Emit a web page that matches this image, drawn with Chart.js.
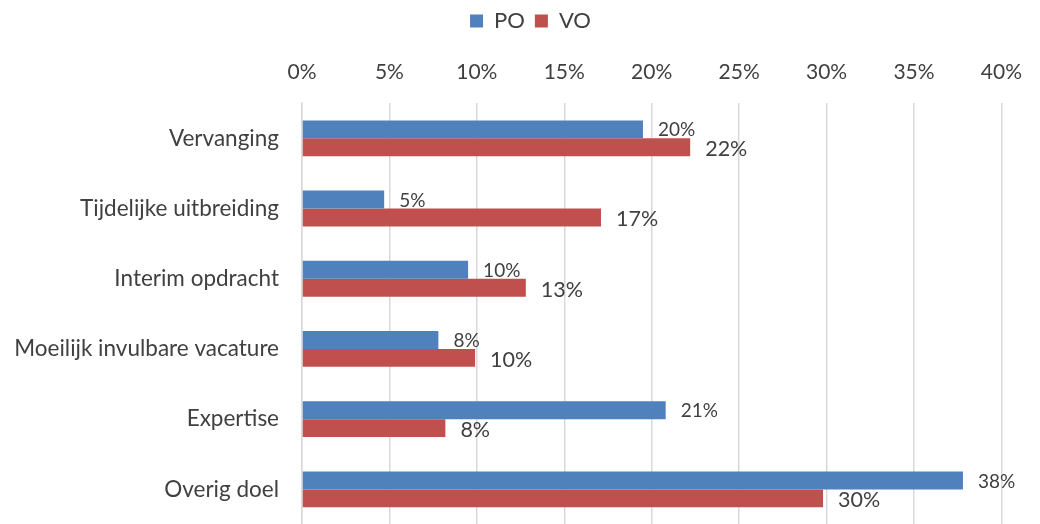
<!DOCTYPE html>
<html>
<head>
<meta charset="utf-8">
<script src="https://cdn.jsdelivr.net/npm/chart.js@4"></script>
<style>
  html, body { margin: 0; padding: 0; background: #fff; overflow: hidden; }
  canvas { display: block; }
</style>
</head>
<body>
<canvas id="c" width="1040" height="561"></canvas>
<script>
const categories = ["Vervanging", "Tijdelijke uitbreiding", "Interim opdracht", "Moeilijk invulbare vacature", "Expertise", "Overig doel"];
const poValues = [19.5, 4.7, 9.5, 7.8, 20.8, 37.8];
const voValues = [22.2, 17.1, 12.8, 9.9, 8.2, 29.8];
const poLabels = ["20%", "5%", "10%", "8%", "21%", "38%"];
const voLabels = ["22%", "17%", "13%", "10%", "8%", "30%"];
const xTicks = [0, 5, 10, 15, 20, 25, 30, 35, 40];

const FONT = "Lato, 'Noto Sans', sans-serif";

const barLabels = {
  id: 'barLabels',
  afterDatasetsDraw(chart) {
    const ctx = chart.ctx;
    const sets = [
      { idx: 0, labels: poLabels, size: 19, dy: 1 },
      { idx: 1, labels: voLabels, size: 21.5, dy: 2 }
    ];
    ctx.save();
    ctx.fillStyle = '#404040';
    ctx.textAlign = 'left';
    ctx.textBaseline = 'middle';
    sets.forEach(s => {
      const meta = chart.getDatasetMeta(s.idx);
      ctx.font = s.size + 'px ' + FONT;
      meta.data.forEach((bar, i) => {
        ctx.fillText(s.labels[i], bar.x + 15, bar.y + s.dy);
      });
    });
    ctx.restore();
  }
};

const legendShift = {
  id: 'legendShift',
  afterLayout(chart) {
    if (chart.legend) {
      chart.legend.left += 22;
      chart.legend.right += 22;
    }
  }
};

new Chart(document.getElementById('c'), {
  type: 'bar',
  data: {
    labels: categories,
    datasets: [
      { label: 'PO', data: poValues, backgroundColor: '#4F81BD', borderWidth: 0 },
      { label: 'VO', data: voValues, backgroundColor: '#C0504D', borderWidth: 0 }
    ]
  },
  options: {
    indexAxis: 'y',
    responsive: false,
    animation: false,
    datasets: { bar: { categoryPercentage: 0.51, barPercentage: 1.0 } },
    layout: { padding: { left: 12, right: 35, top: 0, bottom: 0 } },
    plugins: {
      legend: {
        position: 'top',
        labels: {
          font: { family: FONT, size: 22 },
          color: '#404040',
          boxWidth: 13,
          boxHeight: 13,
          padding: 10
        }
      },
      tooltip: { enabled: false }
    },
    scales: {
      x: {
        position: 'top',
        min: 0,
        max: 40,
        afterBuildTicks(scale) { scale.ticks = xTicks.map(v => ({ value: v })); },
        ticks: {
          callback: v => v + '%',
          font: { family: FONT, size: 21 },
          color: '#404040',
          padding: 18
        },
        grid: { color: '#d9d9d9', lineWidth: 1.5, drawTicks: false },
        border: { display: false }
      },
      y: {
        afterFit(scale) { scale.width = 290; },
        ticks: {
          font: { family: FONT, size: 22.5 },
          color: '#404040',
          padding: 23
        },
        grid: { display: false, drawTicks: false },
        border: { display: true, color: '#d9d9d9', width: 1.5 }
      }
    }
  },
  plugins: [barLabels, legendShift]
});
</script>
</body>
</html>
